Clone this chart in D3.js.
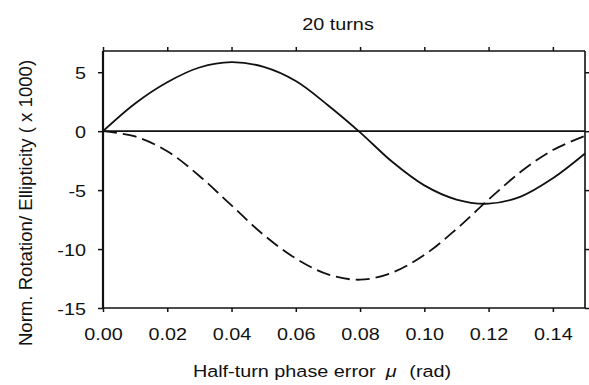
<!DOCTYPE html>
<html>
<head>
<meta charset="utf-8">
<script src="https://cdn.jsdelivr.net/npm/d3@7"></script>
<style>
  body { margin: 0; background: #fff; }
  svg text { font-family: "Liberation Sans", Arial, Helvetica, sans-serif; fill: #111; }
</style>
</head>
<body>
<svg id="chart" width="589" height="385"></svg>
<script>
// phase error values (rad)
const mu = [0, 0.01, 0.02, 0.03, 0.04, 0.05, 0.06, 0.07, 0.08, 0.09, 0.10, 0.11, 0.12, 0.13, 0.14, 0.15];
// normalised rotation (solid) and ellipticity (dashed), x 1000
const rotation = [0, 2.35, 4.15, 5.4, 5.85, 5.45, 4.25, 2.2, -0.1, -2.6, -4.6, -5.8, -6.15, -5.55, -4.0, -1.9];
const ellipticity = [0, -0.45, -1.7, -3.8, -6.3, -8.8, -10.8, -12.15, -12.6, -12.0, -10.5, -8.3, -5.8, -3.45, -1.6, -0.4];
const xTicks = [0, 0.02, 0.04, 0.06, 0.08, 0.10, 0.12, 0.14];
const yTicks = [5, 0, -5, -10, -15];

const title = "20 turns";
const xLabel = "Half-turn phase error ";
const yLabel = "Norm. Rotation/ Ellipticity ( x 1000)";

const svg = d3.select("#chart");
const margin = { left: 103, right: 4, top: 51, bottom: 77 };
const W = 589, H = 385;
const sx = 1.18; // the scan is wider than tall

const x = d3.scaleLinear().domain([0, 0.15]).range([margin.left, W - margin.right]);
const y = d3.scaleLinear().domain([-15, 6.8]).range([H - margin.bottom, margin.top]);

const fs = 16.8;

// axes
const gBottom = svg.append("g")
	.attr("transform", `translate(0,${y(-15)})`)
	.call(d3.axisBottom(x).tickValues(xTicks).tickSize(4).tickFormat(d => d.toFixed(2)));
const gTop = svg.append("g")
	.attr("transform", `translate(0,${y(6.8)})`)
	.call(d3.axisTop(x).tickValues(xTicks).tickSize(4).tickFormat(""));
const gLeft = svg.append("g")
	.attr("transform", `translate(${x(0)},0)`)
	.call(d3.axisLeft(y).tickValues(yTicks).tickSize(5).tickFormat(d => String(d)));
const gRight = svg.append("g")
	.attr("transform", `translate(${x(0.15)},0)`)
	.call(d3.axisRight(y).tickValues(yTicks).tickSize(4).tickFormat(""));

[gBottom, gTop, gLeft, gRight].forEach(g => {
	g.select(".domain").attr("stroke", "#111").attr("stroke-width", 1.6);
	g.selectAll(".tick line").attr("stroke", "#111").attr("stroke-width", 1.5);
});
gLeft.select(".domain").attr("stroke-width", 2.2).attr("d", `M0,${y(-15)}V${y(6.8)}`);
gRight.select(".domain").attr("d", `M0,${y(-15)}V${y(6.8)}`);
gTop.select(".domain").attr("d", `M${x(0)},0H${x(0.15)}`);
gBottom.select(".domain").attr("d", `M${x(0)},0H${x(0.15)}`);

gBottom.selectAll(".tick text")
	.attr("y", 0).attr("dy", 0)
	.attr("transform", `translate(0,32) scale(${sx},1)`)
	.style("font-size", fs + "px")
	.attr("fill", "#111");

gLeft.selectAll(".tick text")
	.attr("x", 0).attr("dy", "0.4em")
	.attr("transform", `translate(-17,0) scale(${sx},1)`)
	.style("font-size", fs + "px")
	.attr("fill", "#111");

// zero line
svg.append("line")
	.attr("x1", x(0)).attr("x2", x(0.15))
	.attr("y1", y(0)).attr("y2", y(0))
	.attr("stroke", "#111").attr("stroke-width", 1.6);

const line = d3.line()
	.x((d, i) => x(mu[i]))
	.y(d => y(d))
	.curve(d3.curveCatmullRom.alpha(0.5));

svg.append("path")
	.datum(rotation)
	.attr("d", line)
	.attr("fill", "none")
	.attr("stroke", "#111")
	.attr("stroke-width", 1.8);

svg.append("path")
	.datum(ellipticity)
	.attr("d", line)
	.attr("fill", "none")
	.attr("stroke", "#111")
	.attr("stroke-width", 1.8)
	.attr("stroke-dasharray", "14,6");

// title
svg.append("text")
	.attr("transform", `translate(338,30) scale(${sx},1)`)
	.attr("text-anchor", "middle")
	.style("font-size", fs + "px")
	.text(title);

// x label
const xl = svg.append("text")
	.attr("transform", `translate(322,377) scale(${sx},1)`)
	.attr("text-anchor", "middle")
	.style("font-size", fs + "px")
	.attr("xml:space", "preserve");
xl.append("tspan").text(xLabel);
xl.append("tspan").style("font-style", "italic").attr("dx", 4).text("\u03bc");
xl.append("tspan").attr("dx", 6).text(" (rad)");

// y label
svg.append("text")
	.attr("transform", `translate(32,203) rotate(-90)`)
	.attr("text-anchor", "middle")
	.style("font-size", "18.6px")
	.text(yLabel);
</script>
</body>
</html>
